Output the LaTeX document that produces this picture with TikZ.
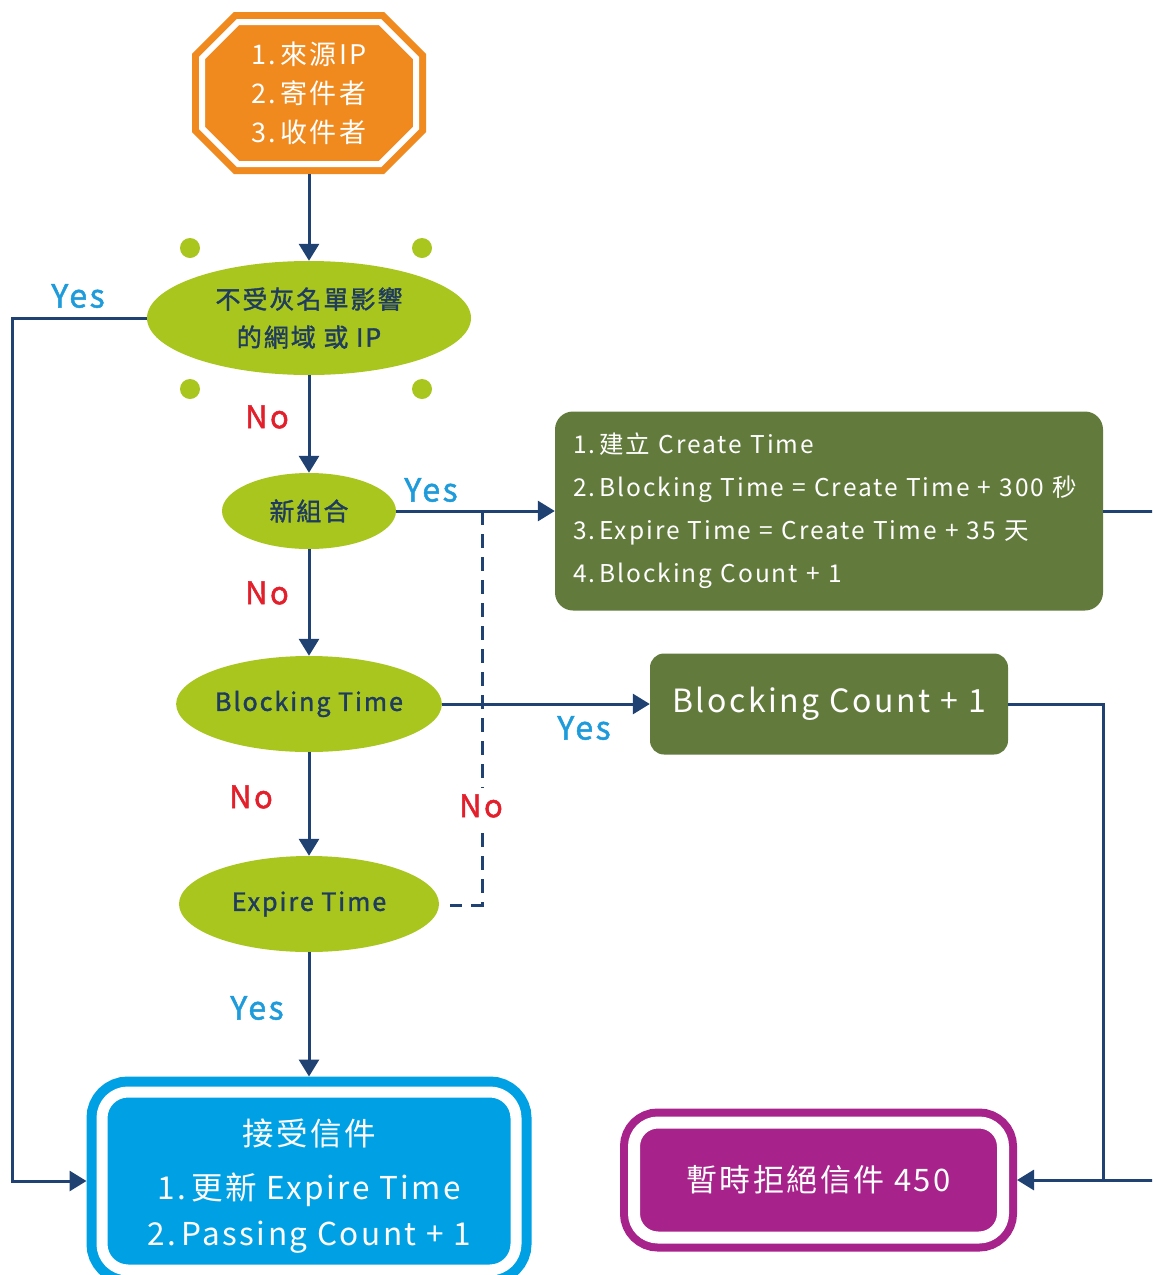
\documentclass[tikz,border=0pt]{standalone}
\usepackage{fontspec}
\setmainfont{Noto Sans CJK TC}[AutoFakeBold=1.5, LetterSpace=8]
\usetikzlibrary{shapes.geometric,arrows.meta,calc}
\definecolor{navy}{HTML}{204272}
\definecolor{grlime}{HTML}{A9C61F}
\definecolor{grbox}{HTML}{627B3D}
\definecolor{orng}{HTML}{F08A1E}
\definecolor{bluebox}{HTML}{00A1E4}
\definecolor{magbox}{HTML}{A7228A}
\definecolor{yescol}{HTML}{1E9BDB}
\definecolor{nocol}{HTML}{E21F2A}
\definecolor{ink}{HTML}{1F3C5E}
\begin{document}
\begin{tikzpicture}[x=1pt,y=-1pt,
  conn/.style={draw=navy, line width=3pt},
  arr/.style={conn, -{Triangle[length=17pt,width=20pt]}},
  dec/.style={ellipse, fill=grlime, inner sep=0pt, text=ink, align=center,
              font=\bfseries\fontsize{25}{38}\selectfont},
  yes/.style={text=yescol, font=\bfseries\fontsize{32}{32}\selectfont},
  no/.style={text=nocol, font=\bfseries\fontsize{31}{32}\selectfont},
  gbox/.style={fill=grbox, rounded corners=18pt, text=white, inner sep=0pt},
  dot/.style={circle, fill=grlime, minimum size=20pt, inner sep=0pt},
  dashline/.style={conn, dash pattern=on 14pt off 9pt}
]
\useasboundingbox (0,0) rectangle (1152,1275);
\fill[white] (0,0) rectangle (1152,1275);
\begin{scope}
\clip (0,0) rectangle (1152,1275);

% octagon start shape
\draw[fill=orng, draw=white, line width=6pt, preaction={draw=orng, line width=20pt}, line join=miter]
  (238,22) -- (380,22) -- (416,58) -- (416,128) -- (380,164) -- (238,164) -- (202,128) -- (202,58) -- cycle;
\node[text=white, minimum width=234pt, minimum height=162pt, inner sep=0pt, align=left,
      font=\fontsize{27}{39}\selectfont] (oct) at (309,93) {1.\,來源IP\\2.\,寄件者\\3.\,收件者};

% decorative dots
\node[dot] (d1) at (190,248) {};
\node[dot] (d2) at (422,248) {};
\node[dot] (d3) at (190,389) {};
\node[dot] (d4) at (422,389) {};

% decisions
\node[dec, minimum width=324pt, minimum height=114pt] (e1) at (309,318) {不受灰名單影響\\的網域 或 IP};
\node[dec, minimum width=174pt, minimum height=76pt] (e2) at (309,511) {新組合};
\node[dec, minimum width=260pt, minimum height=96pt, font=\bfseries\fontsize{25}{30}\selectfont] (e3) at (309,704) {Blocking Time};
\node[dec, minimum width=260pt, minimum height=96pt, font=\bfseries\fontsize{25}{30}\selectfont] (e4) at (309,904) {Expire Time};

% process boxes
\node[gbox, minimum width=548pt, minimum height=199pt, text width=512pt, align=left,
      font=\fontsize{24.5}{43}\selectfont] (g1) at (829,511)
  {1.\,建立 Create Time\\2.\,Blocking Time = Create Time + 300 秒\\3.\,Expire Time = Create Time + 35 天\\4.\,Blocking Count + 1};
\node[gbox, rounded corners=14pt, minimum width=358pt, minimum height=101pt,
      font=\fontsize{32}{36}\selectfont] (g2) at (829,704) {Blocking Count + 1};

% terminal boxes
\node[rectangle, rounded corners=26pt, fill=bluebox, draw=white, line width=11pt,
      preaction={draw=bluebox, line width=31pt}, outer sep=15.5pt,
      minimum width=414pt, minimum height=178pt] (blue) at (309,1181) {};
\node[text=white, align=center, font=\fontsize{31.5}{46}\selectfont] (bluetxt) at (309,1186)
  {接受信件\\[8pt]1.\,更新 Expire Time\\2.\,Passing Count + 1};
\node[rectangle, rounded corners=24pt, fill=magbox, draw=white, line width=12pt,
      preaction={draw=magbox, line width=28pt}, outer sep=14pt,
      minimum width=369pt, minimum height=115pt, text=white,
      font=\fontsize{31}{34}\selectfont] (mag) at (818.5,1180) {暫時拒絕信件 450};

% coordinates
\coordinate (lt) at (12,318);
\coordinate (dtop) at (482,511);
\coordinate (dbot) at (482,905);
\coordinate (dend) at (450,905);
\coordinate (jt) at (1103,704);
\coordinate (jb) at (1103,1180);
\coordinate (rtop) at (1166,511);
\coordinate (rbot) at (1166,1180);

% connectors
\draw[arr] (oct.south) -- (e1.north);
\draw[arr] (e1.south) -- (e2.north);
\draw[arr] (e2.south) -- (e3.north);
\draw[arr] (e3.south) -- (e4.north);
\draw[arr] (e4.south) -- (blue.north);
\draw[arr] (e1.west) -- (lt) |- (blue.west);
\draw[arr] (e2.east) -- (g1.west);
\draw[arr] (e3.east) -- (g2.west);
\draw[dashline] (dtop) -- (dbot) -- (dend);
\draw[arr] (g1.east) -- (rtop) -- (rbot) -- (mag.east);
\draw[conn] (g2.east) -- (jt) -- (jb);

% labels
\node[yes] (y1) at (78,296) {Yes};
\node[no]  (n1) at (267,417) {No};
\node[yes] (y2) at (431,490) {Yes};
\node[no]  (n2) at (267,593) {No};
\node[yes] (y3) at (584,728) {Yes};
\node[no]  (n3) at (251,797) {No};
\node[no, fill=white, inner sep=6pt] (n4) at (481,806) {No};
\node[yes] (y4) at (257,1008) {Yes};
\end{scope}
\end{tikzpicture}
\end{document}
